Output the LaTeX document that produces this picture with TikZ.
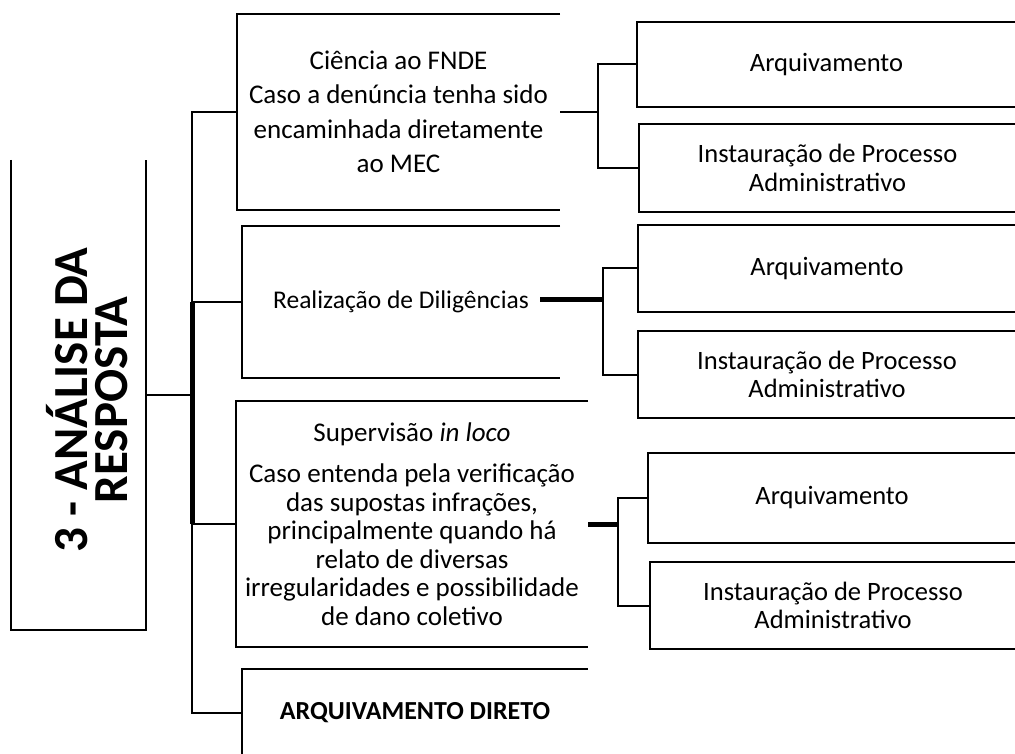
\documentclass[tikz,border=0pt]{standalone}
\usepackage{fontspec}
\setmainfont{Carlito}
\begin{document}
\begin{tikzpicture}[x=1pt,y=-1pt,
  box/.style={rectangle, inner sep=0pt, align=center},
  ln/.style={line width=2pt, black, line join=miter},
  thk/.style={line width=5pt, black},
  txtA/.style={font=\fontsize{27}{34.5}\selectfont},
  txtB/.style={font=\fontsize{25.5}{30}\selectfont},
  txtC/.style={font=\fontsize{27}{28.5}\selectfont},
  txtR/.style={font=\fontsize{26.5}{28.5}\selectfont}]
\useasboundingbox (0,0) rectangle (1015,754);

% title box
\node[box, minimum width=135, minimum height=470] (T) at (78.5,395) {};
\node[rotate=90, align=center, inner sep=0pt,
      font=\bfseries\fontsize{49}{40}\selectfont] (title) at (87,400) {3 - ANÁLISE DA\\RESPOSTA};

% middle column
\node[box, txtA, minimum width=323, minimum height=196] (A) at (398.5,112)
  {Ciência ao FNDE\\Caso a denúncia tenha sido\\encaminhada diretamente\\ao MEC};
\node[box, txtB, minimum width=318, minimum height=152] (B) at (401,302)
  {Realização de Diligências};
\node[box, txtC, minimum width=352, minimum height=246] (C) at (412,524)
  {Supervisão \textit{in loco}\\[13pt]Caso entenda pela verificação\\das supostas infrações,\\principalmente quando há\\relato de diversas\\irregularidades e possibilidade\\de dano coletivo};
\node[box, font=\bfseries\fontsize{26}{30}\selectfont, minimum width=346, minimum height=88] (D) at (415,713)
  {ARQUIVAMENTO DIRETO};

% right column
\node[box, txtR, minimum width=379, minimum height=85] (R1) at (826.5,64.5) {Arquivamento};
\node[box, txtR, minimum width=377, minimum height=88] (R2) at (827.5,168) {Instauração de Processo\\Administrativo};
\node[box, txtR, minimum width=378, minimum height=87] (R3) at (827,268.5) {Arquivamento};
\node[box, txtR, minimum width=378, minimum height=87] (R4) at (827,374.5) {Instauração de Processo\\Administrativo};
\node[box, txtR, minimum width=368, minimum height=90] (R5) at (832,498) {Arquivamento};
\node[box, txtR, minimum width=366, minimum height=87] (R6) at (833,605.5) {Instauração de Processo\\Administrativo};

% borders (open on one side, as in the reference)
\draw[ln] (T.north west) -- (T.south west) -- (T.south east) -- (T.north east);
\foreach \n in {A,B,C,R1,R2,R3,R4,R5,R6}
  \draw[ln] (\n.north east) -- (\n.north west) -- (\n.south west) -- (\n.south east);
\draw[ln] (D.south west) -- (D.north west) -- (D.north east);

% main tree
\coordinate (v) at (192,395);
\draw[ln] (T.east) -- (T.east -| v);
\draw[ln] (A.west) -- (A.west -| v) -- (D.west -| v) -- (D.west);
\draw[thk] (B.west -| v) -- (C.west -| v);
\draw[ln] (B.west -| v) -- (B.west);
\draw[ln] (C.west -| v) -- (C.west);

% bracket A
\coordinate (kA) at (598,112);
\draw[ln] (A.east) -- (kA);
\draw[ln] (R1.west) -| (kA) |- (R2.west);

% bracket B
\coordinate (sB) at (540,299);
\coordinate (kB) at (603,299);
\draw[thk] (sB) -- (kB);
\draw[ln] (R3.west) -| (kB) |- (R4.west);

% bracket C
\coordinate (kC) at (618,524);
\draw[thk] (C.east) -- (kC);
\draw[ln] (R5.west) -| (kC) |- (R6.west);
\end{tikzpicture}
\end{document}
